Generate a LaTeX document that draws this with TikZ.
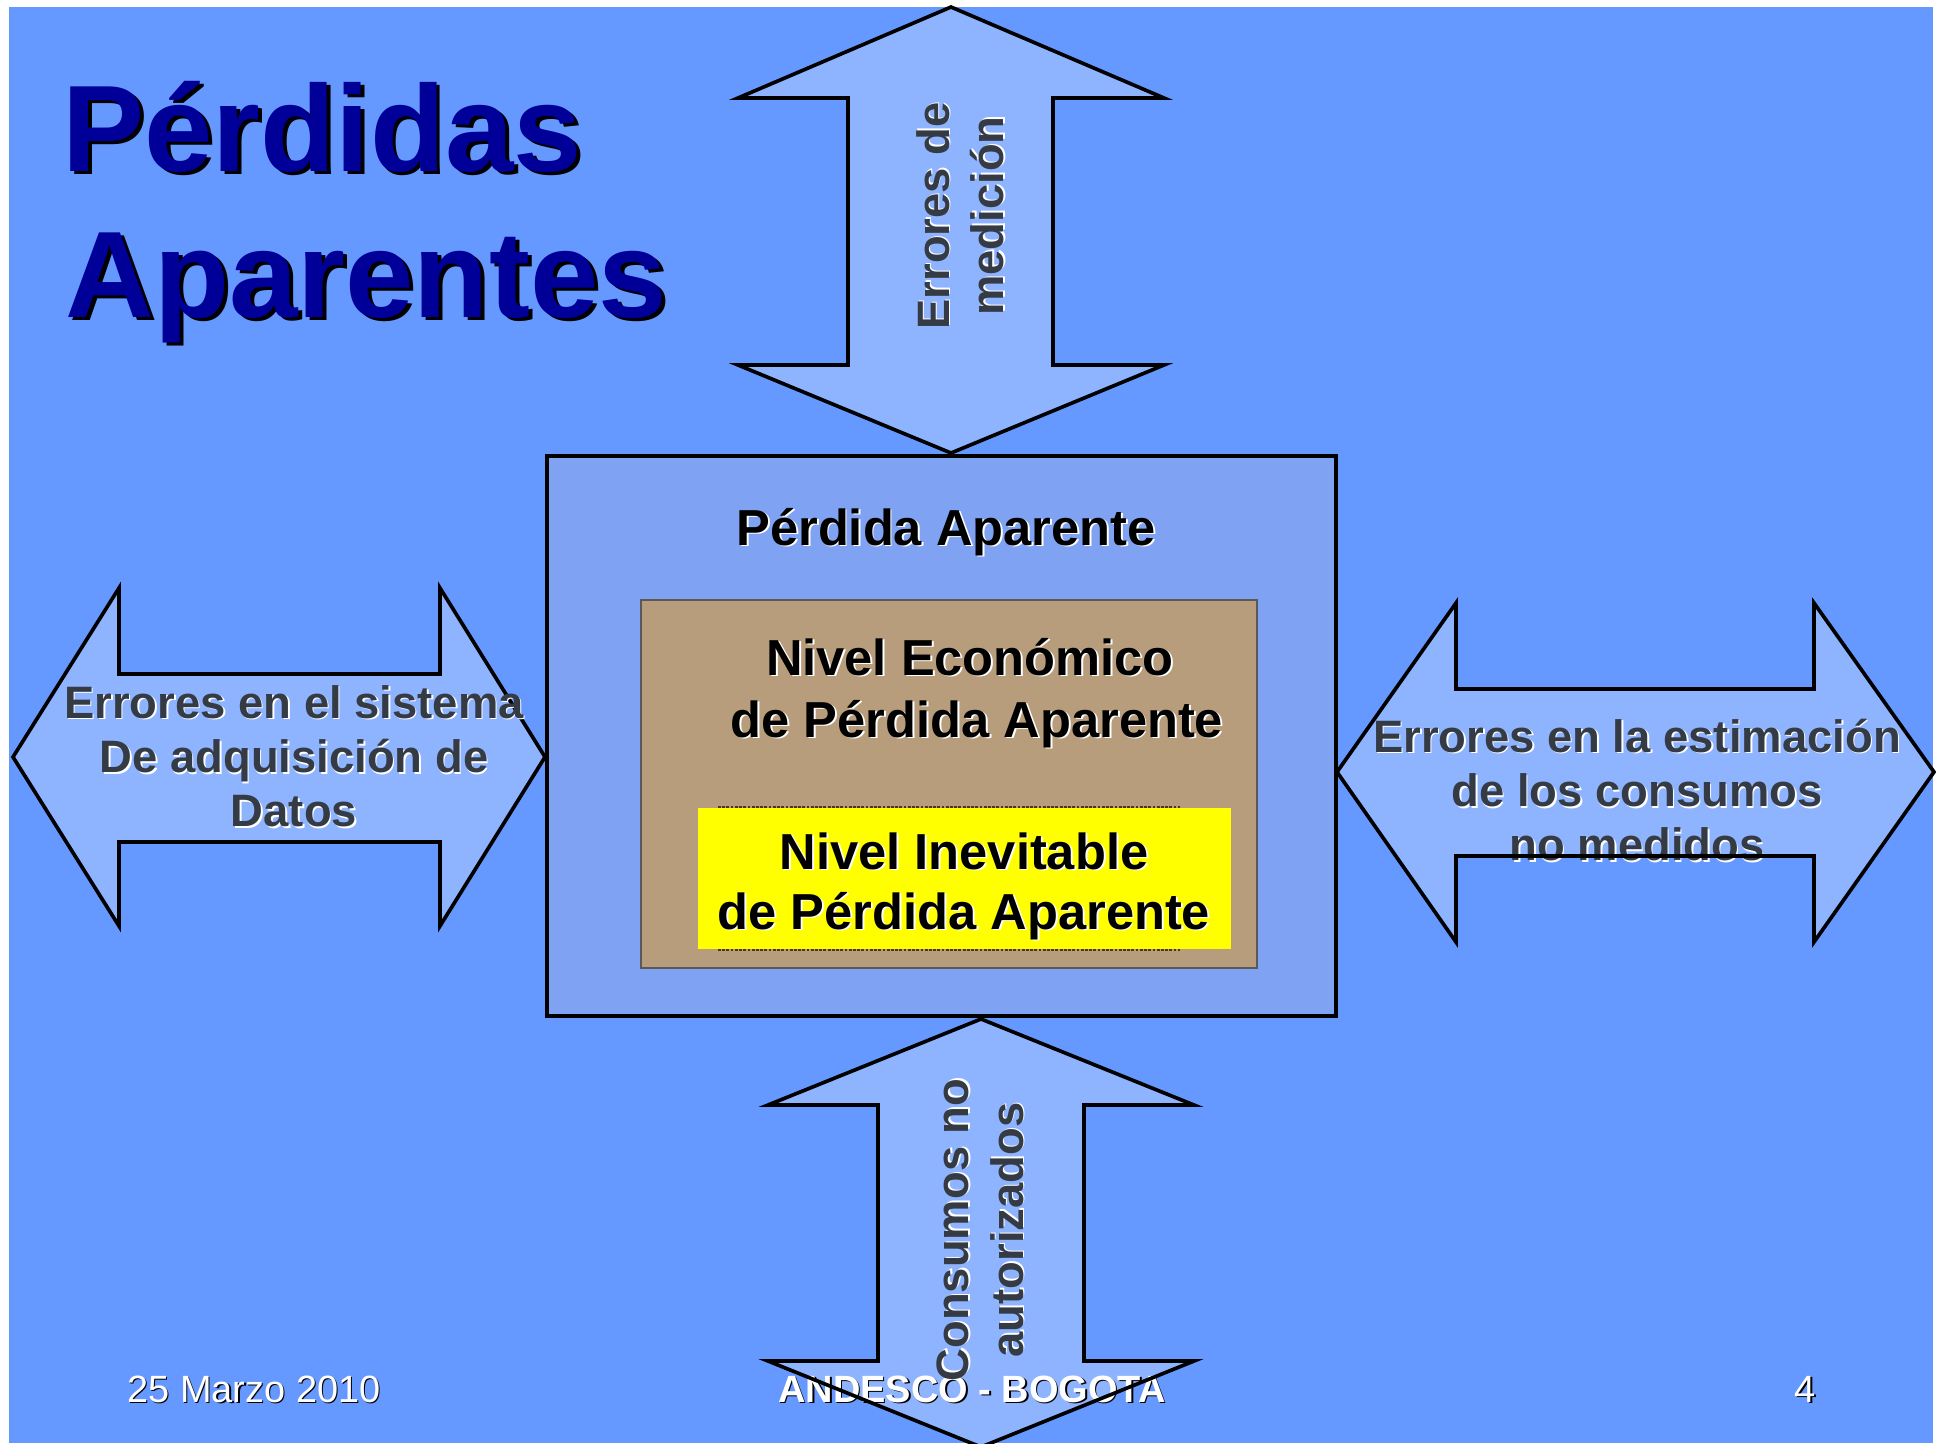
\documentclass[tikz,border=0pt]{standalone}
\usepackage{fontspec}
\setmainfont{Liberation Sans}
\definecolor{bgblue}{HTML}{6699FF}
\definecolor{arrowfill}{HTML}{8EB3FF}
\definecolor{boxfill}{HTML}{7FA3F2}
\definecolor{tanfill}{HTML}{B89D7C}
\definecolor{titleblue}{HTML}{000099}
\definecolor{arrowtext}{HTML}{353B45}
\definecolor{yellowfill}{HTML}{FFFF00}
\newcommand\shtxt[4]{\rlap{\kern#3\raisebox{-#3}{\textcolor{#1}{#4}}}\textcolor{#2}{#4}}
\newcommand\arrtx[1]{\shtxt{white}{arrowtext}{1.1pt}{#1}}
\newcommand\bxtx[1]{\shtxt{white}{black}{1.4pt}{#1}}
\newcommand\fttx[1]{\shtxt{black}{white}{1pt}{#1}}
\tikzset{
  arrowshape/.style={draw=black, line width=2.6pt, line join=miter, fill=arrowfill},
  titletxt/.style={inner sep=0pt, font=\fontsize{87.5}{100}\selectfont\bfseries},
  boxtxt/.style={inner sep=0pt, font=\fontsize{36}{44}\selectfont\bfseries},
  arrtxt/.style={inner sep=0pt, align=center, font=\fontsize{32.3}{38.6}\selectfont\bfseries},
  foottxt/.style={inner sep=0pt, font=\fontsize{27}{32}\selectfont},
}
\begin{document}
\begin{tikzpicture}[x=0.025cm,y=-0.025cm]
\useasboundingbox (0,0) rectangle (1936,1443);
\fill[white] (0,0) rectangle (1936,1443);
\fill[bgblue] (9,7) rectangle (1933,1443);

% title
\node[titletxt, anchor=base west] (title1) at (62,171) {\shtxt{black}{titleblue}{2.8pt}{Pérdidas}};
\node[titletxt, anchor=base west] (title2) at (65,317) {\shtxt{black}{titleblue}{2.8pt}{Aparentes}};

% top arrow
\draw[arrowshape] (951,7) -- (1164,98) -- (1053,98) -- (1053,365) -- (1164,365) -- (951,453)
  -- (738,365) -- (848,365) -- (848,98) -- (738,98) -- cycle;
% left arrow
\draw[arrowshape] (13,757) -- (119,588) -- (119,674) -- (440,674) -- (440,588) -- (545,757)
  -- (440,926) -- (440,842) -- (119,842) -- (119,926) -- cycle;
% right arrow
\fill[arrowfill] (1337,772) -- (1456,603) -- (1456,689) -- (1814,689) -- (1814,603) -- (1934,772)
  -- (1814,942) -- (1814,856) -- (1456,856) -- (1456,942) -- cycle;
\node[arrtxt] (righttxt) at (1637,791) {\arrtx{Errores en la estimación}\\\arrtx{de los consumos}\\\arrtx{no medidos}};
\draw[arrowshape, fill=none] (1337,772) -- (1456,603) -- (1456,689) -- (1814,689) -- (1814,603) -- (1934,772)
  -- (1814,942) -- (1814,856) -- (1456,856) -- (1456,942) -- cycle;

% main box
\draw[line width=3pt, fill=boxfill] (547,456) rectangle (1336,1016);
\draw[line width=1.6pt, draw=black!65, fill=tanfill] (641,600) rectangle (1257,968);
\draw[line width=1.5pt, draw=black!60!brown, dash pattern=on 2pt off 1pt] (718,807) -- (1180,807);
\draw[line width=1.5pt, draw=black!60!brown, dash pattern=on 2pt off 1pt] (718,950) -- (1180,950);
\fill[yellowfill] (698,808) rectangle (1231,949);

\node[boxtxt, anchor=base] (pa) at (946,545) {\bxtx{Pérdida Aparente}};
\node[boxtxt, anchor=base] (ne1) at (970,675) {\bxtx{Nivel Económico}};
\node[boxtxt, anchor=base] (ne2) at (977,737) {\bxtx{de Pérdida Aparente}};
\node[boxtxt, anchor=base] (ni1) at (964,869) {\bxtx{Nivel Inevitable}};
\node[boxtxt, anchor=base] (ni2) at (964,929) {\bxtx{de Pérdida Aparente}};

% arrow texts
\node[arrtxt] (lefttxt) at (294,757) {\arrtx{Errores en el sistema}\\\arrtx{De adquisición de}\\\arrtx{Datos}};
\node[arrtxt, rotate=90] (toptxt) at (961,216) {\arrtx{Errores de}\\\arrtx{medición}};

% footer
\node[foottxt, anchor=base west] (date) at (127,1402) {\fttx{25 Marzo 2010}};
\node[foottxt, anchor=base east] (pagenum) at (1816,1402) {\fttx{4}};

% bottom arrow
\fill[arrowfill] (981,1019) -- (1194,1105) -- (1084,1105) -- (1084,1361) -- (1194,1361) -- (981,1447)
  -- (768,1361) -- (878,1361) -- (878,1105) -- (768,1105) -- cycle;
\node[foottxt, font=\fontsize{27}{32}\selectfont\bfseries, anchor=base] (andesco) at (972,1402) {\fttx{ANDESCO - BOGOTA}};
\draw[arrowshape, fill=none] (981,1019) -- (1194,1105) -- (1084,1105) -- (1084,1361) -- (1194,1361) -- (981,1447)
  -- (768,1361) -- (878,1361) -- (878,1105) -- (768,1105) -- cycle;
\node[arrtxt, rotate=90] (bottomtxt) at (981,1230) {\arrtx{Consumos no}\\\arrtx{autorizados}};
\end{tikzpicture}
\end{document}
